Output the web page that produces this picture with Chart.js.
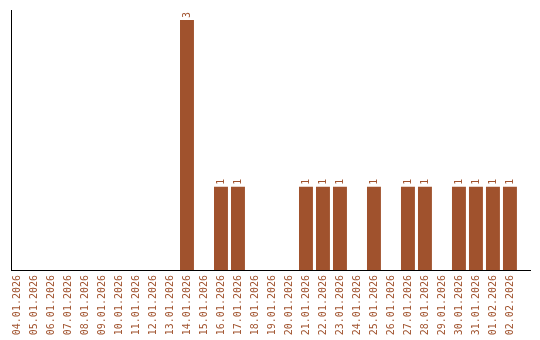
<!DOCTYPE html>
<html><head><meta charset="utf-8">
<script src="https://cdn.jsdelivr.net/npm/chart.js@4"></script>
<style>html,body{margin:0;padding:0;background:#fff}#w{width:540px;height:340px}</style>
</head><body><div id="w"><canvas id="c"></canvas></div>
<script>
const categories = ["04.01.2026","05.01.2026","06.01.2026","07.01.2026","08.01.2026","09.01.2026","10.01.2026","11.01.2026","12.01.2026","13.01.2026","14.01.2026","15.01.2026","16.01.2026","17.01.2026","18.01.2026","19.01.2026","20.01.2026","21.01.2026","22.01.2026","23.01.2026","24.01.2026","25.01.2026","26.01.2026","27.01.2026","28.01.2026","29.01.2026","30.01.2026","31.01.2026","01.02.2026","02.02.2026"];
const counts = [0,0,0,0,0,0,0,0,0,0,3,0,1,1,0,0,0,1,1,1,0,1,0,1,1,0,1,1,1,1];
const COLOR = '#A0522D';
const FONT = '10px "DejaVu Sans Mono", monospace';

const valueLabels = {
  id: 'valueLabels',
  afterDatasetsDraw(chart) {
    const ctx = chart.ctx;
    const meta = chart.getDatasetMeta(0);
    ctx.save();
    ctx.fillStyle = COLOR;
    ctx.font = FONT;
    ctx.textAlign = 'left';
    ctx.textBaseline = 'middle';
    meta.data.forEach((bar, i) => {
      const v = counts[i];
      if (!v) return;
      ctx.save();
      ctx.translate(bar.x, bar.y - 2);
      ctx.rotate(-Math.PI / 2);
      ctx.fillText(String(v), 0, 0);
      ctx.restore();
    });
    ctx.restore();
  }
};

new Chart(document.getElementById('c'), {
  type: 'bar',
  data: {
    datasets: [{
      data: counts.map((v, i) => ({ x: i, y: v })),
      backgroundColor: COLOR,
      borderWidth: 0,
      categoryPercentage: 1,
      barPercentage: 0.82
    }]
  },
  options: {
    responsive: true,
    maintainAspectRatio: false,
    animation: false,
    layout: { padding: { top: 10, right: 10, left: 0, bottom: 0 } },
    plugins: { legend: { display: false }, tooltip: { enabled: false } },
    scales: {
      x: {
        type: 'linear',
        offset: false,
        min: -0.353,
        max: 30.18,
        grid: { display: false, drawTicks: false },
        border: { display: true, color: '#000', width: 1 },
        afterBuildTicks: (s) => { s.ticks = categories.map((_, i) => ({ value: i })); },
        afterFit: (s) => { s.height = 70; },
        ticks: {
          autoSkip: false,
          minRotation: 90,
          maxRotation: 90,
          padding: 5,
          color: COLOR,
          font: { family: '"DejaVu Sans Mono", monospace', size: 10 },
          callback: (v) => categories[v]
        }
      },
      y: {
        min: 0,
        max: 3.12,
        grid: { display: false, drawTicks: false },
        border: { display: true, color: '#000', width: 1 },
        ticks: { display: false },
        afterFit: (s) => { s.width = 11; }
      }
    }
  },
  plugins: [valueLabels]
});
</script>
</body></html>
